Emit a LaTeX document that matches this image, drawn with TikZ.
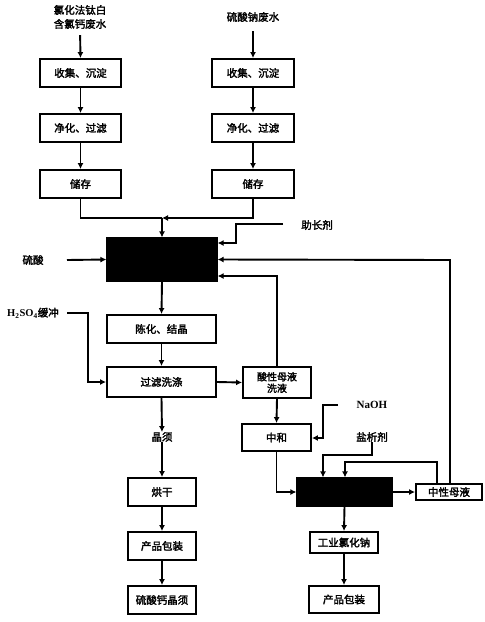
\documentclass[tikz,border=0pt]{standalone}
\usepackage{fontspec}
\setmainfont{Noto Sans CJK SC}[AutoFakeBold=2.2]
\newfontfamily\lat{Liberation Serif}
\usetikzlibrary{arrows.meta,calc}
\begin{document}
\begin{tikzpicture}[x=1pt,y=-1pt,
  box/.style={draw, line width=1.9pt, inner sep=0pt, font=\fontsize{10.5}{12}\selectfont\bfseries, align=center},
  blk/.style={draw, fill=black, line width=1.2pt, inner sep=0pt},
  lbl/.style={inner sep=0pt, font=\fontsize{10.5}{14}\selectfont\bfseries, align=center},
  ln/.style={line width=1.9pt},
  arr/.style={line width=1.9pt, -{Latex[length=6pt,width=6pt]}}]
\useasboundingbox (0,0) rectangle (485,622);
% titles
\node[lbl] (t1) at (80,17) {氯化法钛白\\含氯钙废水};
\node[lbl] (t2) at (253,17) {硫酸钠废水};
% left column
\node[box, minimum width=81pt, minimum height=28pt] (l1) at (80.5,73) {收集、沉淀};
\node[box, minimum width=81pt, minimum height=28pt] (l2) at (80.5,128) {净化、过滤};
\node[box, minimum width=81pt, minimum height=28pt] (l3) at (80.5,184) {储存};
% right column
\node[box, minimum width=82pt, minimum height=28pt] (r1) at (253,73) {收集、沉淀};
\node[box, minimum width=82pt, minimum height=28pt] (r2) at (253,128) {净化、过滤};
\node[box, minimum width=82pt, minimum height=28pt] (r3) at (253,184) {储存};
\draw[arr, shorten <=6pt] (t1.south) -- (l1.north);
\draw[arr] (l1) -- (l2);
\draw[arr] (l2) -- (l3);
\draw[arr, shorten <=9pt] (t2.south) -- (r1.north);
\draw[arr] (r1) -- (r2);
\draw[arr] (r2) -- (r3);
% reactor 1
\node[blk, minimum width=110pt, minimum height=43pt] (re1) at (162,259.5) {};
\coordinate (jM) at (162,218);
\draw[ln] (l3.south) |- (jM);
\draw[arr] (r3.south) |- (jM);
\draw[arr] (jM) -- (re1.north);
\node[lbl] (s1) at (33,260) {硫酸};
\coordinate (s1a) at (67,260);
\draw[arr] (s1a) -- (re1.west);
\node[lbl] (g1) at (317,225) {助长剂};
\coordinate (g1a) at (283,224);
\draw[arr] (g1a) -- (236,224) -- (236,243) -- (re1.east |- 0,243);
% below reactor 1
\node[box, minimum width=109pt, minimum height=28pt] (cj) at (161.5,329) {陈化、结晶};
\node[box, minimum width=109pt, minimum height=30pt] (gl) at (161.5,382) {过滤洗涤};
\draw[arr] (re1.south) -- (cj.north);
\draw[arr] (cj) -- (gl);
\node[lbl] (hs) at (33,313) {{\lat H\textsubscript{2}SO\textsubscript{4}}缓冲};
\coordinate (hsa) at (67,313);
\draw[arr] (hsa) -- (88,313) |- (gl.west);
\node[box, minimum width=68pt, minimum height=31pt, font=\fontsize{10}{11.5}\selectfont\bfseries] (am) at (277,382.5) {酸性母液\\洗液};
\draw[arr] (gl.east) -- (am.west);
\draw[arr] (am.north) -- (277,276) -- (re1.east |- 0,276);
\node[lbl] (jx) at (162,437) {晶须};
\draw[arr] (gl.south) -- (jx.north);
\node[box, minimum width=68pt, minimum height=28pt] (hg) at (162,492) {烘干};
\node[box, minimum width=68pt, minimum height=28pt] (bz1) at (162,546) {产品包装};
\node[box, minimum width=68pt, minimum height=28pt] (bx) at (162,600) {硫酸钙晶须};
\draw[arr] (jx.south) -- (hg.north);
\draw[arr] (hg) -- (bz1);
\draw[arr] (bz1) -- (bx);
% right lower part
\node[box, minimum width=69pt, minimum height=27pt] (zh) at (276.5,437.5) {中和};
\draw[arr] (am.south) -- (zh.north);
\node[lbl, font=\lat\fontsize{11}{13}\selectfont\bfseries] (na) at (372,405) {NaOH};
\coordinate (naa) at (338,405);
\draw[arr] (naa) -- (323,405) -- (323,438) -- (zh.east |- 0,438);
\node[blk, minimum width=95pt, minimum height=28pt] (re2) at (344.5,492) {};
\draw[arr] (zh.south) |- (re2.west);
\node[lbl] (yx) at (372,437) {盐析剂};
\draw[arr] (yx.south) -- (372,455) -- (323,455) -- (re2.north -| 323,0);
\node[box, minimum width=66pt, minimum height=16pt] (nm) at (449,492) {中性母液};
\draw[arr] (re2.east) -- (nm.west);
\draw[arr] (nm.north -| 437,0) -- (437,462) -- (345,462) -- (re2.north -| 345,0);
\draw[arr] (nm.north -| 450,0) -- (450,260) -- (re1.east);
\node[box, minimum width=68pt, minimum height=21pt] (gy) at (344,542.5) {工业氯化钠};
\node[box, minimum width=70pt, minimum height=27pt] (bz2) at (344,599.5) {产品包装};
\draw[arr] (re2.south) -- (gy.north);
\draw[arr] (gy) -- (bz2);
\end{tikzpicture}
\end{document}
